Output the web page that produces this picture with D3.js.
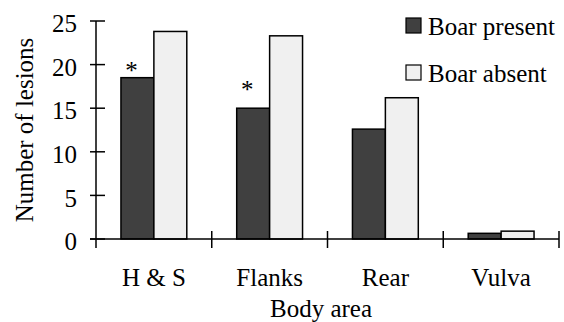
<!DOCTYPE html>
<html><head><meta charset="utf-8"><script src="https://cdn.jsdelivr.net/npm/d3@7"></script></head>
<body style="margin:0">
<svg id="chart" width="564" height="322"></svg>
<script>
// Lesion counts by body area, with and without a boar present
const categories = ["H & S", "Flanks", "Rear", "Vulva"];
const seriesNames = ["Boar present", "Boar absent"];
const boarPresent = [18.5, 15.0, 12.6, 0.65];
const boarAbsent = [23.8, 23.3, 16.2, 0.9];
const yTicks = [0, 5, 10, 15, 20, 25];
// Significance markers: category and the level at which the asterisk sits
const markerCategories = ["H & S", "Flanks"];
const markerLevels = [19.9, 17.8];

const seriesValues = [boarPresent, boarAbsent];
const fills = ["#404040", "#f0f0f0"];
const fontSize = 25;

const svg = d3.select("#chart");
const margin = { left: 96, right: 5, top: 21, bottom: 83 };
const W = 564, H = 322;

const x = d3.scaleBand()
  .domain(categories)
  .range([margin.left, W - margin.right])
  .paddingInner(0)
  .paddingOuter(0);

const xSub = d3.scaleBand()
  .domain(seriesNames)
  .range([0, x.bandwidth()])
  .paddingInner(0)
  .paddingOuter(0.758);

const y = d3.scaleLinear()
  .domain([0, 25])
  .range([H - margin.bottom, margin.top]);

// Bars
const rows = categories.map((c, i) => ({
  category: c,
  values: seriesNames.map((s, j) => ({ series: s, value: seriesValues[j][i], idx: j }))
}));

const groups = svg.append("g").selectAll("g")
  .data(rows)
  .join("g")
  .attr("transform", d => `translate(${x(d.category)},0)`);

groups.selectAll("rect")
  .data(d => d.values)
  .join("rect")
  .attr("x", d => xSub(d.series))
  .attr("width", xSub.bandwidth())
  .attr("y", d => y(d.value))
  .attr("height", d => y(0) - y(d.value))
  .attr("fill", d => fills[d.idx])
  .attr("stroke", "#000")
  .attr("stroke-width", 1.5);

// Y axis: ticks cross the axis line
const yAxis = svg.append("g").attr("transform", `translate(${margin.left},0)`);
yAxis.append("line")
  .attr("x1", 0).attr("x2", 0)
  .attr("y1", y(25)).attr("y2", y(0) + 9)
  .attr("stroke", "#000").attr("stroke-width", 1.5);
yAxis.selectAll("line.tick")
  .data(yTicks)
  .join("line")
  .attr("class", "tick")
  .attr("x1", -6).attr("x2", 9)
  .attr("y1", d => y(d)).attr("y2", d => y(d))
  .attr("stroke", "#000").attr("stroke-width", 1.5);
yAxis.selectAll("text")
  .data(yTicks)
  .join("text")
  .attr("x", -19)
  .attr("y", d => y(d))
  .attr("dy", "0.45em")
  .attr("text-anchor", "end")
  .text(d => d);

// X axis: boundary ticks between categories
const xAxis = svg.append("g");
xAxis.append("line")
  .attr("x1", margin.left - 6).attr("x2", W - margin.right)
  .attr("y1", y(0)).attr("y2", y(0))
  .attr("stroke", "#000").attr("stroke-width", 1.5);
const bounds = categories.map(c => x(c)).concat([x(categories[categories.length - 1]) + x.bandwidth()]);
xAxis.selectAll("line.tick")
  .data(bounds.slice(1))
  .join("line")
  .attr("class", "tick")
  .attr("x1", d => d).attr("x2", d => d)
  .attr("y1", y(0) - 8).attr("y2", y(0) + 9)
  .attr("stroke", "#000").attr("stroke-width", 1.5);
xAxis.selectAll("text")
  .data(categories)
  .join("text")
  .attr("x", d => x(d) + x.bandwidth() / 2)
  .attr("y", 286)
  .attr("text-anchor", "middle")
  .text(d => d);

// Axis titles
svg.append("text")
  .attr("x", 321)
  .attr("y", 317)
  .attr("text-anchor", "middle")
  .text("Body area");
svg.append("text")
  .attr("transform", `translate(33,130) rotate(-90)`)
  .attr("text-anchor", "middle")
  .text("Number of lesions");

// Significance asterisks above the boar-present bars
svg.append("g").selectAll("text")
  .data(markerCategories.map((c, i) => ({ category: c, level: markerLevels[i] })))
  .join("text")
  .attr("x", d => x(d.category) + xSub(seriesNames[0]) + xSub.bandwidth() / 2 - 6)
  .attr("y", d => y(d.level))
  .attr("dy", "0.55em")
  .attr("text-anchor", "middle")
  .text("*");

// Legend
const legend = svg.append("g").attr("transform", "translate(406,18)");
const li = legend.selectAll("g")
  .data(seriesNames)
  .join("g")
  .attr("transform", (d, i) => `translate(0,${i * 47})`);
li.append("rect")
  .attr("width", 15).attr("height", 15)
  .attr("fill", (d, i) => fills[i])
  .attr("stroke", "#000").attr("stroke-width", 1.2);
li.append("text")
  .attr("x", 22)
  .attr("y", 17)
  .text(d => d);

// Shared text styling
svg.selectAll("text")
  .attr("font-size", fontSize)
  .style("font-family", d => `"Liberation Serif"`);
</script>
</body>
</html>
